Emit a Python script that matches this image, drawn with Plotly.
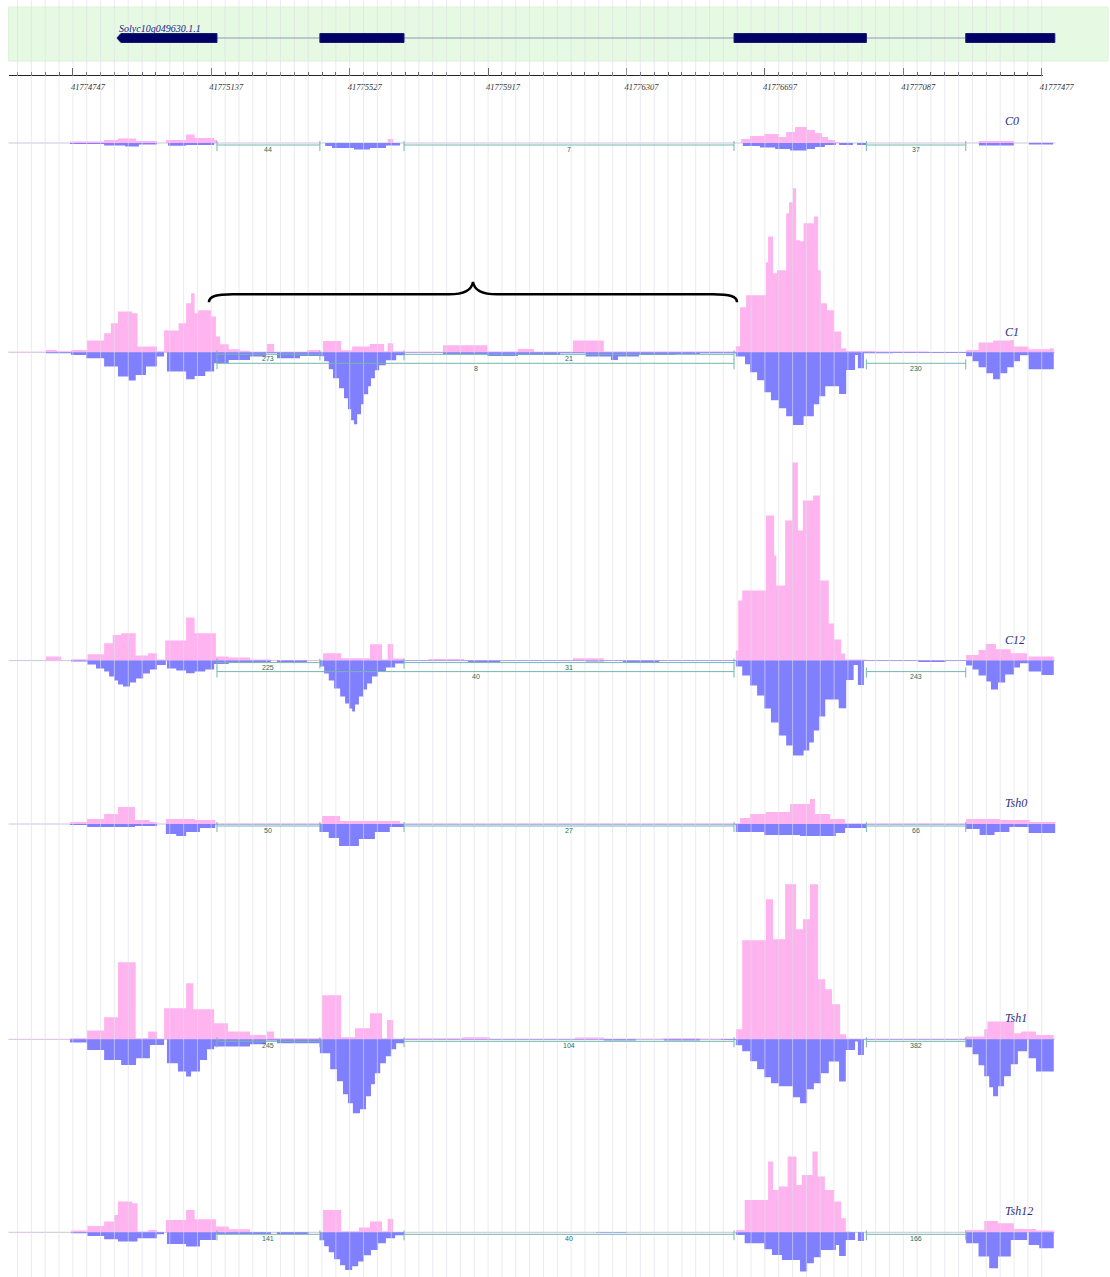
import plotly.graph_objects as go

# ---------------------------------------------------------------- data
REGION_START = 41774540          # profile positions are offsets (bp) from here

GENE_ID = "Solyc10g049630.1.1"
exon_start = [41774871, 41775443, 41776610, 41777263]
exon_end = [41775153, 41775680, 41776983, 41777514]

ruler_labels = [41774747, 41775137, 41775527, 41775917,
                41776307, 41776697, 41777087, 41777477]
minor_step = 39

samples = ["C0", "C1", "C12", "Tsh0", "Tsh1", "Tsh12"]

# coverage profiles: (offset, depth) step starts, last entry closes the run
c0_plus = [(199, 1.5), (295, 3), (334, 4.5), (385, 2), (444, 0), (469, 3), (526, 8.5), (550, 5),
           (605, 3), (613, 0), (1094, 4), (1109, 0), (2090, 4), (2115, 7), (2155, 9), (2196, 6),
           (2217, 11), (2242, 16), (2276, 13), (2298, 10), (2318, 6), (2335, 3), (2355, 1),
           (2369, 0), (2759, 2), (2859, 0), (2901, 0.5), (2969, 0)]
c0_minus = [(199, 1), (295, 2.5), (354, 3.5), (393, 1.5), (444, 0), (475, 2.7), (526, 2), (605, 0),
            (918, 3), (937, 5), (999, 6.5), (1044, 5), (1089, 2.5), (1129, 0), (2095, 3),
            (2143, 4.5), (2186, 6), (2228, 7.5), (2276, 6), (2298, 4), (2326, 2), (2357, 0),
            (2366, 2), (2405, 0), (2417, 2), (2442, 0), (2760, 2.5), (2859, 0), (2901, 1.5),
            (2969, 0)]

c1_plus = [(24, 0.5), (131, 2.3), (162, 1), (202, 2.3), (247, 11.7), (295, 19), (314, 29),
           (334, 40.7), (374, 39), (389, 5.7), (444, 1), (464, 22), (475, 21.7), (505, 29),
           (526, 49), (540, 59), (550, 39), (560, 42), (596, 35.7), (610, 15.7), (622, 8),
           (646, 3), (678, 1.5), (706, 0.5), (754, 8.3), (774, 0.5), (867, 2.3), (903, 0.5),
           (912, 11.3), (963, 2), (994, 5.7), (1044, 8.3), (1084, 1), (1094, 9), (1109, 1),
           (1140, 0.5), (1250, 7), (1375, 0.8), (1461, 3.3), (1506, 0.5), (1616, 11.7),
           (1703, 0.8), (2075, 6), (2087, 45), (2104, 57), (2160, 90), (2166, 115.7), (2180, 79),
           (2191, 82), (2217, 139), (2225, 150), (2236, 164), (2245, 112), (2256, 111),
           (2266, 129), (2295, 135.7), (2307, 82), (2315, 49), (2332, 42), (2352, 20.7),
           (2372, 4), (2386, 1.3), (2467, 0.7), (2618, 0.3), (2724, 2.3), (2759, 9.7),
           (2800, 11.7), (2850, 12.3), (2859, 5.7), (2900, 3), (2960, 4), (2971, 0)]
c1_minus = [(131, 1), (202, 2.7), (244, 6), (295, 14.3), (334, 24.3), (364, 28.3), (384, 22.7),
            (413, 14.3), (444, 4.3), (464, 0), (472, 19.3), (526, 27), (550, 23.7), (580, 19.3),
            (605, 11), (646, 7.7), (706, 4.3), (751, 1), (782, 6), (847, 3.7), (903, 4), (915, 9),
            (928, 17), (940, 26), (957, 36), (971, 46), (982, 57), (991, 68), (999, 72),
            (1008, 62), (1019, 52), (1027, 42), (1039, 34), (1047, 26), (1058, 18), (1070, 13),
            (1089, 8), (1118, 3), (1143, 0.5), (1250, 2), (1375, 3.7), (1461, 2.7), (1580, 1),
            (1652, 4.3), (1723, 7.7), (1743, 4.3), (1802, 2.7), (1904, 1.7), (1974, 1),
            (2075, 4.3), (2101, 12), (2115, 20), (2135, 28), (2155, 40), (2174, 48), (2196, 56),
            (2217, 64), (2236, 72.7), (2266, 64), (2295, 52), (2310, 44), (2327, 34),
            (2366, 41.7), (2386, 17.7), (2411, 2.7), (2419, 16), (2436, 1), (2518, 0.7),
            (2724, 4), (2741, 9), (2759, 15), (2780, 21), (2800, 27), (2820, 21), (2840, 15),
            (2859, 9), (2876, 3), (2900, 17), (2971, 0)]

c12_plus = [(131, 4), (174, 0), (202, 1.3), (248, 6.3), (295, 17.3), (319, 25.7), (343, 27.3),
            (384, 5), (419, 7.3), (444, 1), (464, 0), (467, 20), (526, 43), (550, 27.3),
            (610, 4), (646, 3), (706, 1), (765, 0.5), (903, 0), (912, 7.3), (963, 2.3),
            (1044, 16.3), (1078, 1), (1094, 16.7), (1109, 2), (1140, 0.3), (1209, 1.7),
            (1309, 0.3), (1616, 2.3), (1703, 0.3), (2075, 10), (2082, 60), (2093, 70),
            (2160, 145), (2183, 105), (2189, 75), (2214, 140), (2234, 198), (2250, 130),
            (2264, 160), (2293, 165), (2312, 80), (2337, 37), (2352, 21), (2372, 7), (2383, 1),
            (2442, 0.3), (2724, 5.7), (2759, 10.7), (2779, 16.7), (2808, 11.3), (2850, 7.3),
            (2896, 0), (2900, 4), (2971, 0)]
c12_minus = [(202, 1), (248, 4), (272, 8), (295, 11), (309, 16), (323, 20), (334, 24), (348, 26),
             (368, 22), (385, 18), (405, 13), (424, 9), (444, 4.3), (469, 0), (472, 8), (498, 10),
             (526, 12.7), (550, 11), (580, 9), (605, 3.3), (646, 2), (706, 1.7), (765, 0),
             (782, 1.3), (867, 0), (903, 6), (915, 13), (928, 20), (943, 28), (960, 36),
             (974, 43), (985, 48), (994, 51), (1002, 44), (1013, 36), (1025, 29), (1036, 23),
             (1050, 16), (1067, 11), (1089, 7), (1115, 3), (1140, 0.3), (1320, 1.7), (1411, 0.3),
             (1652, 1), (1703, 0.3), (1757, 2), (1859, 0.3), (2075, 6), (2093, 15), (2115, 25),
             (2135, 35), (2155, 48), (2174, 62), (2196, 75), (2217, 85), (2236, 95), (2266, 90),
             (2282, 82), (2295, 70), (2310, 56), (2327, 39), (2365, 47.7), (2386, 19.3),
             (2407, 4.3), (2419, 24.3), (2436, 0.5), (2589, 1.3), (2667, 0.3), (2724, 5),
             (2741, 9), (2759, 15), (2780, 21), (2794, 29), (2814, 22), (2834, 14), (2859, 7),
             (2876, 2.7), (2900, 11), (2935, 14.3), (2971, 0)]

tsh0_plus = [(199, 2), (247, 5), (295, 10), (334, 17), (382, 4), (424, 2), (444, 0), (469, 5),
             (551, 4), (608, 0.5), (909, 8), (960, 3), (1129, 0.5), (2087, 6), (2115, 10),
             (2160, 12), (2228, 20), (2284, 25), (2298, 10), (2341, 5), (2383, 0.5), (2724, 5),
             (2820, 4), (2904, 2), (2975, 0)]
tsh0_minus = [(199, 1), (247, 3), (382, 2), (444, 0), (469, 10), (498, 12), (526, 8), (565, 4),
              (608, 0.5), (903, 8), (928, 14), (957, 22), (1013, 15), (1058, 8), (1100, 3),
              (1140, 0.5), (2075, 8), (2155, 11), (2256, 12), (2357, 9), (2383, 4), (2442, 0.5),
              (2724, 5), (2762, 11), (2804, 8), (2846, 3), (2900, 9), (2975, 0)]

tsh1_plus = [(24, 0.3), (199, 1), (247, 8.7), (295, 22), (334, 77), (384, 1), (419, 7.7),
             (444, 0.5), (464, 31), (526, 56), (546, 30), (605, 16), (644, 7.7), (706, 4.3),
             (751, 0.5), (754, 7.7), (774, 1), (909, 44), (963, 2), (1002, 11), (1044, 26),
             (1078, 1), (1092, 19.3), (1109, 0.5), (1140, 1), (1304, 2), (1382, 0.5), (1622, 1.7),
             (1703, 0.5), (1867, 1), (1974, 0.5), (2076, 10), (2093, 99), (2160, 140), (2180, 100),
             (2214, 155), (2245, 110), (2264, 120), (2284, 155), (2307, 60), (2327, 50),
             (2346, 35), (2369, 5), (2386, 0.5), (2724, 2.7), (2775, 10), (2784, 17.7), (2859, 6),
             (2879, 7.7), (2921, 4.3), (2971, 0)]
tsh1_minus = [(199, 3.3), (247, 10.7), (295, 20.7), (343, 25.7), (385, 19), (424, 5.7), (464, 0),
              (472, 24), (503, 32.3), (526, 37.3), (540, 32.3), (565, 20.7), (585, 10),
              (605, 7.3), (706, 5), (751, 1.3), (782, 4), (903, 14), (932, 30), (951, 42),
              (968, 55), (982, 64), (996, 74), (1016, 70), (1033, 57), (1047, 45), (1058, 34),
              (1073, 24), (1089, 17), (1104, 10), (1118, 4), (1140, 0.5), (1703, 1.3), (1793, 0.3),
              (1873, 1.3), (1974, 0.3), (2033, 0.7), (2075, 6), (2093, 12), (2115, 22), (2135, 30),
              (2155, 38), (2174, 44), (2196, 47), (2236, 58), (2256, 64), (2276, 50), (2295, 44),
              (2315, 34), (2337, 22.3), (2366, 42.3), (2385, 10.7), (2411, 2.3), (2419, 15.7),
              (2436, 0.5), (2724, 8), (2741, 15), (2759, 26), (2775, 37), (2789, 48), (2800, 57),
              (2814, 47), (2831, 37), (2850, 25), (2870, 12), (2896, 0), (2900, 19), (2921, 32.3),
              (2971, 0)]

tsh12_plus = [(26, 0.3), (117, 0), (202, 1.7), (248, 6.3), (295, 10.7), (323, 17.3), (334, 30.7),
              (374, 29), (389, 0.7), (419, 2.3), (444, 0), (469, 12.3), (526, 22.3), (550, 13),
              (610, 5.7), (646, 3), (706, 0.3), (903, 0), (912, 22.3), (963, 1), (1013, 4.7),
              (1044, 10.7), (1078, 1), (1094, 13.3), (1109, 0.3), (1140, 0), (2075, 2.3),
              (2100, 32.3), (2166, 70.7), (2180, 42.3), (2196, 45.7), (2221, 75.7), (2246, 47.3),
              (2261, 57.3), (2291, 80.7), (2306, 55.7), (2326, 42.3), (2352, 30.7), (2372, 14),
              (2385, 0.7), (2397, 0), (2724, 2.3), (2775, 11.3), (2814, 9), (2859, 3.3),
              (2921, 1.7), (2971, 0)]
tsh12_minus = [(202, 1), (248, 3.7), (295, 7), (334, 9.3), (389, 6), (444, 2), (464, 0),
               (472, 11.7), (526, 14.3), (565, 7.7), (610, 2), (655, 1.7), (765, 0), (782, 2),
               (872, 0), (903, 8), (915, 14), (928, 20), (943, 27), (960, 33), (974, 37.7),
               (994, 34), (1011, 29.3), (1027, 23), (1047, 17.7), (1067, 11), (1089, 6),
               (1115, 3), (1140, 0), (1681, 0.5), (1769, 0), (2075, 2.7), (2100, 11), (2155, 17),
               (2177, 22.7), (2205, 27.7), (2256, 39.3), (2276, 31), (2295, 25), (2315, 17.7),
               (2357, 12.7), (2366, 23.7), (2385, 7.7), (2411, 0), (2419, 8.7), (2436, 0),
               (2724, 11), (2759, 24.3), (2789, 36), (2814, 24.3), (2850, 7.7), (2896, 0),
               (2900, 12.7), (2930, 16), (2971, 0)]

# splice junctions: (donor exon, acceptor exon, reads, stacking row)
c0_junctions = [(0, 1, 44, 0), (1, 2, 7, 0), (2, 3, 37, 0)]
c1_junctions = [(0, 1, 273, 0), (0, 2, 8, 1), (1, 2, 21, 0), (2, 3, 230, 1)]
c12_junctions = [(0, 1, 225, 0), (0, 2, 40, 1), (1, 2, 31, 0), (2, 3, 243, 1)]
tsh0_junctions = [(0, 1, 50, 0), (1, 2, 27, 0), (2, 3, 66, 0)]
tsh1_junctions = [(0, 1, 245, 0), (1, 2, 104, 0), (2, 3, 382, 0)]
tsh12_junctions = [(0, 1, 141, 0), (1, 2, 40, 0), (2, 3, 166, 0)]

plus = dict(zip(samples, [c0_plus, c1_plus, c12_plus, tsh0_plus, tsh1_plus, tsh12_plus]))
minus = dict(zip(samples, [c0_minus, c1_minus, c12_minus, tsh0_minus, tsh1_minus, tsh12_minus]))
junctions = dict(zip(samples, [c0_junctions, c1_junctions, c12_junctions,
                               tsh0_junctions, tsh1_junctions, tsh12_junctions]))

# ---------------------------------------------------------------- layout
W, H = 1110, 1277
BP_PER_PX = 390 / 138.4
VIEW_START = ruler_labels[0] - 72.9 * BP_PER_PX
VIEW_END = VIEW_START + W * BP_PER_PX
RULER_X0, RULER_X1 = 8.6, 1043

baseline_px = {"C0": 143, "C1": 352.3, "C12": 660.6, "Tsh0": 824, "Tsh1": 1039.3, "Tsh12": 1232.3}
label_px = {"C0": 120.7, "C1": 331.7, "C12": 640, "Tsh0": 803, "Tsh1": 1018, "Tsh12": 1211}

PINK = "#ffb4f0"
BLUE = "#8080ff"
SERIF = "Liberation Serif"
JUNC_LINE = "#74b8ac"
JUNC_TEXT = "#1d6e5e"


def paper_y(px):
    return 1 - px / H


def to_bp(px):
    return VIEW_START + px * BP_PER_PX


fig = go.Figure()
shapes, annotations = [], []
yaxes = {}

# vertical guide lines every ruler step
grid_x = []
g = ruler_labels[0] - minor_step * 4
while g <= ruler_labels[-1] + 1:
    grid_x.append(g)
    g += minor_step

# gene panel background
shapes.append(dict(type="rect", xref="paper", yref="paper", x0=RULER_X0 / W, x1=1108 / W,
                   y0=paper_y(61), y1=paper_y(7), fillcolor="#e6fae3",
                   line=dict(color="#dcf2d8", width=1), layer="below"))

for i, name in enumerate(samples):
    axis_id = i + 2
    yref = f"y{axis_id}"
    b = baseline_px[name]
    yaxes[f"yaxis{axis_id}"] = dict(range=[-(H - b), b], overlaying="y", visible=False,
                                    fixedrange=True, automargin=False)
    # zero line of the track
    shapes.append(dict(type="line", xref="x", yref=yref, x0=to_bp(RULER_X0), x1=exon_end[-1],
                       y0=0, y1=0, line=dict(color="#c8c8d8", width=1), layer="below"))
    for prof, sign, color in ((plus[name], 1, PINK), (minus[name], -1, BLUE)):
        fig.add_trace(go.Scatter(
            x=[REGION_START + p for p, _ in prof],
            y=[sign * d for _, d in prof],
            mode="lines", line=dict(width=0, shape="hv", color=color),
            fill="tozeroy", fillcolor=color, yaxis=yref,
            hoverinfo="skip", showlegend=False))
    annotations.append(dict(x=1003 / W, xref="paper", y=paper_y(label_px[name]), yref="paper",
                            text=f"<i>{name}</i>", showarrow=False, xanchor="left",
                            yanchor="middle",
                            font=dict(family=SERIF, size=12, color="#2e2e80")))

# grid on top of the coverage, translucent
for gx in grid_x:
    shapes.append(dict(type="line", xref="x", yref="paper", x0=gx, x1=gx, y0=0, y1=1,
                       line=dict(color="rgba(222,222,230,0.6)", width=1), layer="above"))

# junction brackets with read counts
ROW_LINE = [-2, -11]
ROW_TEXT = [-6.5, -16]
for i, name in enumerate(samples):
    yref = f"y{i + 2}"
    for a, b_, reads, row in junctions[name]:
        x0, x1 = exon_end[a], exon_start[b_]
        yl = ROW_LINE[row]
        shapes.append(dict(type="line", xref="x", yref=yref, x0=x0, x1=x1, y0=yl, y1=yl,
                           line=dict(color=JUNC_LINE, width=1), layer="above"))
        for xe in (x0, x1):
            shapes.append(dict(type="line", xref="x", yref=yref, x0=xe, x1=xe, y0=yl + 4,
                               y1=yl - 6, line=dict(color=JUNC_LINE, width=1), layer="above"))
        annotations.append(dict(x=(x0 + x1) / 2, xref="x", y=ROW_TEXT[row], yref=yref,
                                text=str(reads), showarrow=False, xanchor="center",
                                yanchor="middle",
                                font=dict(family="Liberation Sans", size=7, color=JUNC_TEXT)))

# gene model
mid = paper_y(38)
top, bot = paper_y(33.5), paper_y(42.5)
shapes.append(dict(type="line", xref="x", yref="paper", x0=exon_end[0], x1=exon_start[-1],
                   y0=mid, y1=mid, line=dict(color="#8f98b8", width=1), layer="above"))
arrow = 4 * BP_PER_PX
shapes.append(dict(type="path", xref="x", yref="paper",
                   path=(f"M {exon_start[0] + arrow},{top} L {exon_end[0]},{top} "
                         f"L {exon_end[0]},{bot} L {exon_start[0] + arrow},{bot} "
                         f"L {exon_start[0]},{mid} Z"),
                   fillcolor="#000066", line=dict(color="#1a1a70", width=1), layer="above"))
for s, e in zip(exon_start[1:], exon_end[1:]):
    shapes.append(dict(type="rect", xref="x", yref="paper", x0=s, x1=e, y0=bot, y1=top,
                       fillcolor="#000066", line=dict(color="#1a1a70", width=1), layer="above"))
annotations.append(dict(x=exon_start[0], xref="x", y=paper_y(36), yref="paper",
                        text=f"<i>{GENE_ID}</i>", showarrow=False, xanchor="left",
                        yanchor="bottom", font=dict(family=SERIF, size=10, color="#20208a")))

# curly brace over the skipped region in C1
bl = exon_end[0] - 8 * BP_PER_PX
br = exon_start[2] + 3 * BP_PER_PX
bm = (bl + br) / 2
k = 12 * BP_PER_PX
brace = (f"M {bl},50 C {bl},56 {bl + k * 0.6},58 {bl + 2 * k},58 "
         f"L {bm - 2 * k},58 C {bm - 0.7 * k},58 {bm - 0.1 * k},62 {bm},70.5 "
         f"C {bm + 0.1 * k},62 {bm + 0.7 * k},58 {bm + 2 * k},58 "
         f"L {br - 2 * k},58 C {br - k * 0.6},58 {br},56 {br},50")
shapes.append(dict(type="path", xref="x", yref="y3", path=brace,
                   line=dict(color="black", width=2.5), layer="above"))

# ruler axis carrier
fig.add_trace(go.Scatter(x=[ruler_labels[0]], y=[0.5], xaxis="x2", yaxis="y", mode="markers",
                         marker=dict(opacity=0), hoverinfo="skip", showlegend=False))

fig.update_layout(
    width=W, height=H, autosize=False,
    margin=dict(l=0, r=0, t=0, b=0, pad=0, autoexpand=False),
    paper_bgcolor="white", plot_bgcolor="rgba(0,0,0,0)",
    showlegend=False,
    xaxis=dict(range=[VIEW_START, VIEW_END], domain=[0, 1], visible=False, fixedrange=True,
               automargin=False),
    yaxis=dict(range=[0, 1], domain=[0, 1], visible=False, fixedrange=True, automargin=False),
    xaxis2=dict(domain=[RULER_X0 / W, RULER_X1 / W], range=[to_bp(RULER_X0), to_bp(RULER_X1)],
                anchor="free", position=paper_y(75), side="bottom", automargin=False,
                showline=True, linecolor="#222", linewidth=1,
                ticks="inside", ticklen=7, tickwidth=1, tickcolor="#222",
                tickmode="array", tickvals=ruler_labels,
                ticktext=[str(v) for v in ruler_labels],
                tickfont=dict(family=SERIF, size=8.5, color="#333", style="italic"),
                ticklabelshift=15, ticklabelstandoff=4,
                minor=dict(ticks="inside", ticklen=3, tickwidth=1, tickcolor="#222",
                           tickmode="linear", tick0=ruler_labels[0], dtick=minor_step,
                           showgrid=False),
                showgrid=False, zeroline=False, fixedrange=True),
    shapes=shapes, annotations=annotations,
    **yaxes,
)

PAGE_FIX = (
    "document.documentElement.style.margin='0';"
    "document.body.style.margin='0';"
    "document.body.style.overflow='hidden';"
)
fig.write_html("out.html", config={"displayModeBar": False, "responsive": False},
               post_script=PAGE_FIX)
